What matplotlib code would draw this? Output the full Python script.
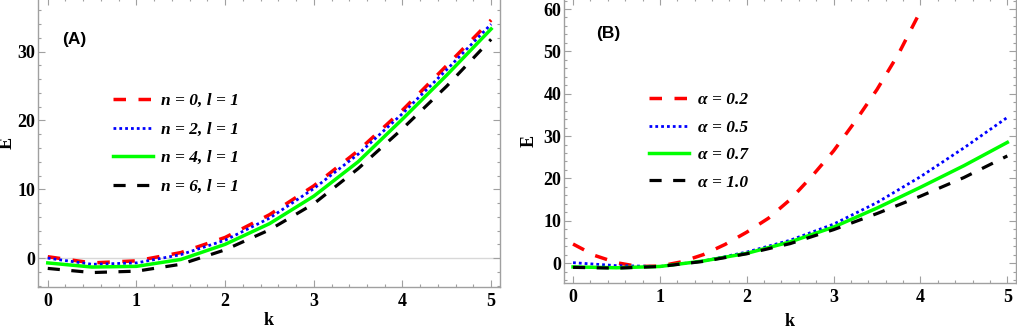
import numpy as np
import matplotlib
matplotlib.use("Agg")
import matplotlib.pyplot as plt
from matplotlib.ticker import MultipleLocator

## Dados
k_meio = [0, 0.5, 1, 1.5, 2, 2.5, 3, 3.5, 4, 4.5, 5]

# Painel (A): diferentes n, l = 1
E_n0 = [0.2, -0.7, -0.4, 0.8, 3.0, 6.3, 10.5, 15.6, 21.5, 28.0, 34.6]
E_n2 = [0.0, -0.9, -0.7, 0.5, 2.6, 5.8, 10.1, 15.1, 21.0, 27.4, 34.0]
E_n4 = [-0.7, -1.3, -1.2, -0.2, 2.0, 5.0, 9.0, 14.0, 20.2, 26.6, 33.3]
E_n6 = [-1.5, -2.1, -1.9, -0.9, 1.2, 4.1, 7.9, 13.0, 18.8, 25.0, 31.8]
rotulos_A = ["n = 0, l = 1", "n = 2, l = 1", "n = 4, l = 1", "n = 6, l = 1"]

# Painel (B): diferentes alpha
k_quarto = [0, 0.25, 0.5, 0.75, 1, 1.25, 1.5, 1.75, 2, 2.25, 2.5, 2.75,
            3, 3.25, 3.5, 3.75, 4]
E_a02 = [4.5, 1.8, 0.1, -0.8, -0.7, 0.3, 2.0, 4.4, 7.3, 10.6, 15.0, 20.5,
         26.5, 33.5, 41.0, 49.5, 59.5]
E_a05 = [0.1, -0.6, -0.8, 0.5, 2.6, 5.4, 9.2, 14.3, 20.4, 27.2, 34.4]
E_a07 = [-0.9, -1.1, -0.8, 0.5, 2.3, 5.0, 8.5, 13.0, 17.9, 23.0, 28.5]
E_a10 = [-1.0, -1.2, -0.8, 0.4, 2.2, 4.6, 7.9, 11.7, 15.8, 20.2, 25.3]
rotulos_B = ["α = 0.2", "α = 0.5", "α = 0.7", "α = 1.0"]

## Estilos
cor_verde = "#00ff00"
estilo_vermelho = dict(color="red", lw=2.5, dashes=(3.6, 3.6))
estilo_azul = dict(color="blue", lw=2.0, dashes=(1, 1.1))
estilo_verde = dict(color=cor_verde, lw=2.5)
estilo_preto = dict(color="black", lw=2.3, dashes=(3.8, 3.6))

fonte_eixo = dict(family="Liberation Serif", weight="bold", size=13)
cinza = "#a0a0a0"

fig = plt.figure(figsize=(10.17, 3.28), dpi=100)
axA = fig.add_axes([38 / 1017, 41 / 328, 462 / 1017, 289 / 328])
axB = fig.add_axes([564 / 1017, 45 / 328, 452 / 1017, 285 / 328])


def estilizar(ax, ymaior, ymenor, pad_k):
    for s in ax.spines.values():
        s.set_color(cinza)
        s.set_linewidth(1.0)
    ax.xaxis.set_major_locator(MultipleLocator(1))
    ax.xaxis.set_minor_locator(MultipleLocator(0.2))
    ax.yaxis.set_major_locator(MultipleLocator(ymaior))
    ax.yaxis.set_minor_locator(MultipleLocator(ymenor))
    ax.tick_params(which="both", direction="in", top=True, right=True,
                   color=cinza, width=0.8)
    ax.tick_params(which="major", length=5, pad=4)
    ax.tick_params(which="minor", length=2.5)
    for lab in ax.get_xticklabels() + ax.get_yticklabels():
        lab.set_fontfamily("Liberation Serif")
        lab.set_fontweight("bold")
        lab.set_fontsize(13)
    ax.tick_params(axis="y", pad=2)
    ax.set_xlabel("k", fontdict=fonte_eixo, labelpad=pad_k)


## Painel A
axA.axhline(0, color="#d8d8d8", lw=1.0, zorder=0)
axA.plot(k_meio, E_n0, label=rotulos_A[0], **estilo_vermelho)
axA.plot(k_meio, E_n2, label=rotulos_A[1], **estilo_azul)
axA.plot(k_meio, E_n4, label=rotulos_A[2], **estilo_verde)
axA.plot(k_meio, E_n6, label=rotulos_A[3], **estilo_preto)
axA.set_xlim(-0.11, 5.10)
axA.set_ylim(-4.2, 37.8)
estilizar(axA, 10, 2, 2)
axA.set_ylabel("E", fontdict=fonte_eixo, labelpad=1)
axA.text(0.053, 0.84, "(A)", transform=axA.transAxes,
         family="Liberation Sans", weight="bold", fontsize=12.5)

## Painel B
axB.plot(k_quarto, E_a02, label=rotulos_B[0], **estilo_vermelho)
axB.plot(k_meio, E_a05, label=rotulos_B[1], **estilo_azul)
axB.plot(k_meio, E_a07, label=rotulos_B[2], **estilo_verde)
axB.plot(k_meio, E_a10, label=rotulos_B[3], **estilo_preto)
axB.set_xlim(-0.104, 5.10)
axB.set_ylim(-4.7, 62.6)
estilizar(axB, 10, 2, 5)
axB.set_ylabel("E", fontdict=fonte_eixo, labelpad=4)
axB.text(0.07, 0.86, "(B)", transform=axB.transAxes,
         family="Liberation Sans", weight="bold", fontsize=12.5)

fonte_legenda = dict(family="Liberation Serif", weight="bold", style="italic", size=12.5)
for ax, x0, y0, esp in [(axA, 0.162, 0.672, 0.72), (axB, 0.189, 0.67, 0.65)]:
    ax.legend(loc="upper left", bbox_to_anchor=(x0, y0), frameon=False,
              prop=fonte_legenda, handlelength=2.3, handletextpad=0.5,
              labelspacing=esp, borderpad=0, borderaxespad=0)

fig.savefig("out.png", dpi=100)
